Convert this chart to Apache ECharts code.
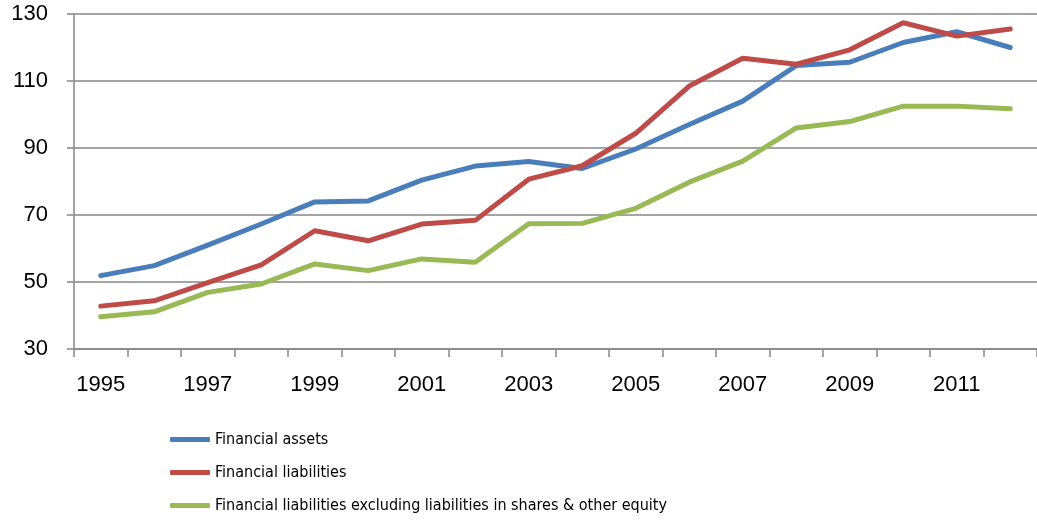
<!DOCTYPE html>
<html>
<head>
<meta charset="utf-8">
<script src="https://cdn.jsdelivr.net/npm/echarts@6/dist/echarts.min.js"></script>
<style>
  html, body { margin: 0; padding: 0; background: #fff; }
  #chart { width: 1037px; height: 522px; }
</style>
</head>
<body>
<div id="chart"></div>
<script>
var years = ['1995', '1996', '1997', '1998', '1999', '2000', '2001', '2002', '2003',
             '2004', '2005', '2006', '2007', '2008', '2009', '2010', '2011', '2012'];
var financialAssets = [51.9, 54.9, 61, 67.3, 73.9, 74.2, 80.4, 84.6, 86, 83.9,
                       89.7, 97, 104, 114.6, 115.6, 121.5, 124.7, 120];
var financialLiabilities = [42.8, 44.4, 49.8, 55.1, 65.3, 62.3, 67.3, 68.4, 80.7, 84.7,
                            94.4, 108.5, 116.8, 115, 119.3, 127.4, 123.4, 125.5];
var liabilitiesExEquity = [39.6, 41.1, 46.9, 49.4, 55.4, 53.4, 56.9, 55.9, 67.4, 67.5,
                           72, 79.8, 86.1, 96, 97.9, 102.5, 102.5, 101.7];
var seriesNames = ['Financial assets', 'Financial liabilities',
                   'Financial liabilities excluding liabilities in shares & other equity'];
var colors = ['#4A7EBB', '#BE4B48', '#98B954'];

var chart = echarts.init(document.getElementById('chart'));

function lineSeries(name, data, color) {
    return {
        name: name, type: 'line', data: data,
        symbol: 'none', smooth: false,
        lineStyle: {color: color, width: 5, cap: 'round', join: 'round'},
        itemStyle: {color: color}
    };
}

chart.setOption({
    animation: false,
    color: colors,
    grid: {left: 74, top: 14, height: 335, width: 972.7},
    legend: {
        orient: 'vertical', left: 165, top: 425,
        itemWidth: 40, itemHeight: 5, itemGap: 14,
        icon: 'roundRect',
        textStyle: {fontFamily: '"DejaVu Sans Condensed", Roboto, sans-serif', fontSize: 16,
                    lineHeight: 19, color: '#000'},
        data: seriesNames
    },
    xAxis: {
        type: 'category', data: years, boundaryGap: true,
        axisLine: {lineStyle: {color: '#868686', width: 1.5}},
        axisTick: {show: true, inside: false, length: 8, interval: 0, lineStyle: {color: '#868686', width: 1.5}},
        axisLabel: {interval: 1, margin: 25, color: '#000', fontFamily: 'Liberation Sans', fontSize: 22}
    },
    yAxis: {
        type: 'value', min: 30, max: 130, interval: 20,
        axisLine: {show: true, lineStyle: {color: '#868686', width: 1.5}},
        axisTick: {show: true, length: 7, lineStyle: {color: '#868686', width: 1.5}},
        splitLine: {lineStyle: {color: '#868686', width: 1.5}},
        axisLabel: {margin: 26, color: '#000', fontFamily: 'Liberation Sans', fontSize: 22}
    },
    series: [
        lineSeries(seriesNames[0], financialAssets, colors[0]),
        lineSeries(seriesNames[1], financialLiabilities, colors[1]),
        lineSeries(seriesNames[2], liabilitiesExEquity, colors[2])
    ]
});
</script>
</body>
</html>
